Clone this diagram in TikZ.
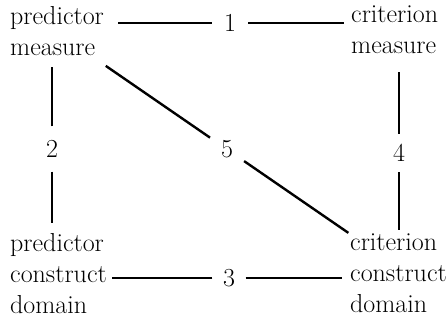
\documentclass[tikz,border=0pt]{standalone}
\usetikzlibrary{positioning,calc}
\tikzset{
  term/.style={align=left, inner sep=0pt, anchor=north west, font=\fontsize{26}{31}\selectfont,
    execute at begin node=\strut, execute at end node=\strut},
  num/.style={circle, inner sep=0pt, font=\fontsize{26}{31}\selectfont},
  link/.style={line width=2.4pt, draw=black}
}
\begin{document}
\begin{tikzpicture}[x=1pt,y=1pt]
\useasboundingbox (0,0) rectangle (448,323);
% the four terms
\node[term] (pm) at (10,317) {predictor\\measure};
\node[term] (cm) at (351,317) {criterion\\measure};
\node[term] (pd) at (10,90) {predictor\\construct\\domain};
\node[term] (cd) at (350,89) {criterion\\construct\\domain};
% numbered links
\node[num, minimum size=36pt] (l1) at (230,300) {1};
\node[num, minimum size=45pt] (l2) at (52,174) {2};
\node[num, minimum size=33pt] (l3) at (229,45) {3};
\node[num, minimum size=38pt] (l4) at (399,170) {4};
\node[num, minimum size=41pt] (l5) at ($(pm.south east)!0.5!(cd.north west)$) {5};
\draw[link, shorten >=14pt] (l1) -- (l1 -| pm.east);
\draw[link, shorten >=7pt] (l1) -- (l1 -| cm.west);
\draw[link, shorten >=2pt] (l2) -- (l2 |- pm.south);
\draw[link, shorten >=10pt] (l2) -- (l2 |- pd.north);
\draw[link, shorten >=5pt] (l3) -- (l3 -| pd.east);
\draw[link, shorten >=8pt] (l3) -- (l3 -| cd.west);
\draw[link, shorten >=9pt] (l4) -- (l4 |- cm.south);
\draw[link, shorten >=4pt] (l4) -- (l4 |- cd.north);
\draw[link, shorten >=2pt] (l5) -- (pm.south east);
\draw[link, shorten >=2pt] (l5) -- (cd.north west);
\end{tikzpicture}
\end{document}
